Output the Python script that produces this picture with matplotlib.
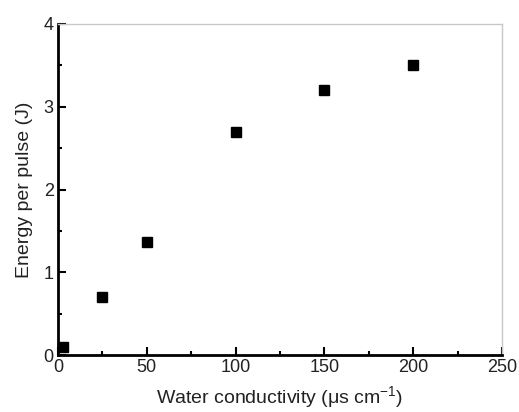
import matplotlib
matplotlib.use("Agg")
import matplotlib.pyplot as plt
from matplotlib.ticker import MultipleLocator

plt.rcParams['font.family'] = ['Liberation Sans', 'DejaVu Sans']
plt.rcParams['mathtext.fontset'] = 'custom'
plt.rcParams['mathtext.rm'] = 'Liberation Sans'
plt.rcParams['mathtext.default'] = 'regular'

conductivity = [3, 25, 50, 100, 150, 200]
energy = [0.10, 0.70, 1.37, 2.69, 3.20, 3.50]

fig = plt.figure(figsize=(5.19, 4.12), dpi=100)
ax = fig.add_axes([58/519, 1 - 355/412, (502-58)/519, (355-24)/412])

ax.plot(conductivity, energy, linestyle='none', marker='s', markersize=7.5,
        color='black', clip_on=False, zorder=5)

ax.set_xlim(0, 250)
ax.set_ylim(0, 4)
ax.xaxis.set_major_locator(MultipleLocator(50))
ax.xaxis.set_minor_locator(MultipleLocator(25))
ax.yaxis.set_major_locator(MultipleLocator(1))
ax.yaxis.set_minor_locator(MultipleLocator(0.5))

for s in ['left', 'bottom']:
    ax.spines[s].set_linewidth(2)
    ax.spines[s].set_color('black')
for s in ['top', 'right']:
    ax.spines[s].set_linewidth(1)
    ax.spines[s].set_color('#c8c8c8')

ax.tick_params(which='both', direction='in', top=False, right=False,
               color='black', width=1.5, labelsize=13, labelcolor='#222222')
ax.tick_params(which='major', length=6, pad=3)
ax.tick_params(which='minor', length=3)

ax.set_xlabel('Water conductivity (μs cm$^{-1}$)', fontsize=14, color='#222222', labelpad=6)
ax.set_ylabel('Energy per pulse (J)', fontsize=14, color='#222222', labelpad=8)

fig.savefig('out.png', dpi=100)
